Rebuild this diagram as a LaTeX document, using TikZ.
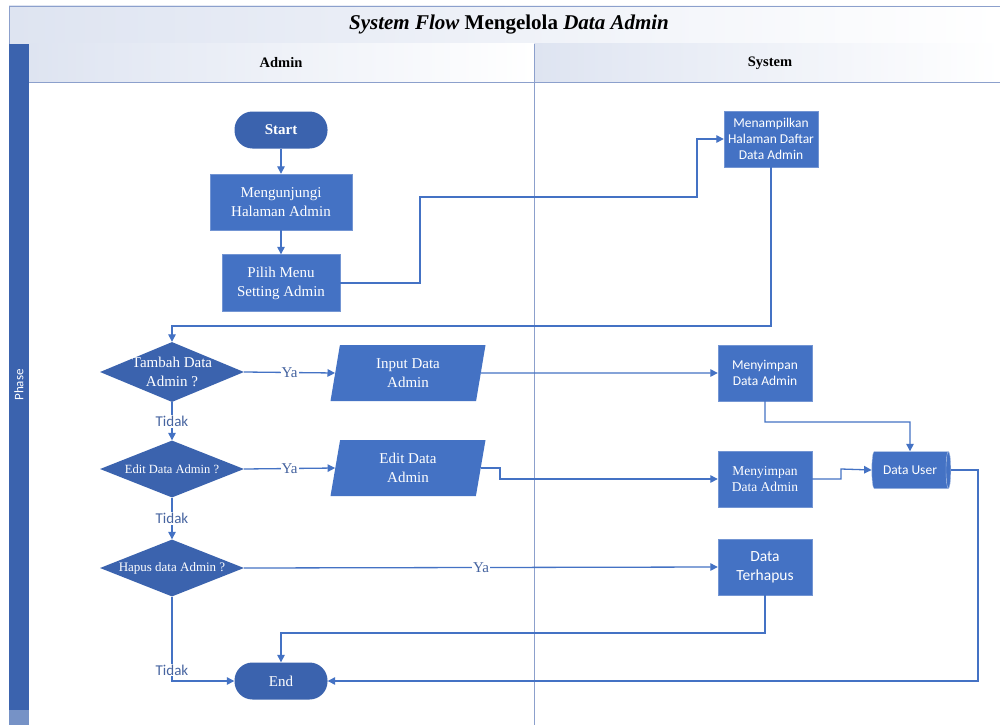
\documentclass[tikz,border=0pt]{standalone}
\usepackage{fontspec}
\setmainfont{Liberation Serif}
\newfontfamily\calfont{Carlito}
\usetikzlibrary{shapes.geometric,arrows.meta}
\definecolor{boxblue}{RGB}{68,114,196}
\definecolor{darkblue}{RGB}{59,99,174}
\definecolor{lanegray}{RGB}{140,160,204}
\definecolor{hdrblue}{RGB}{222,228,241}
\definecolor{labblue}{RGB}{70,100,160}
\begin{document}
\begin{tikzpicture}[x=1pt,y=-1pt]
\tikzstyle{every node}+=[inner sep=0pt, align=center]
\tikzstyle{proc}=[rectangle, fill=boxblue, draw=boxblue!75!white, text=white, minimum width=94pt, minimum height=56pt, font=\fontsize{13}{16}\selectfont]
\tikzstyle{term}=[rectangle, rounded corners=18pt, fill=darkblue, text=white, minimum width=93pt, minimum height=37pt, font=\fontsize{15}{18}\selectfont]
\tikzstyle{dec}=[diamond, fill=darkblue, minimum width=144pt, minimum height=60pt]
\tikzstyle{dectext}=[text=white, align=center]
\tikzstyle{io}=[trapezium, trapezium left angle=72, trapezium right angle=108, trapezium stretches body, fill=boxblue, text=white, minimum width=155pt, minimum height=56pt, font=\fontsize{15}{19}\selectfont]
\tikzstyle{store}=[cylinder, shape border rotate=0, aspect=0.55, cylinder uses custom fill, cylinder body fill=boxblue, cylinder end fill=boxblue, draw=boxblue!45!white, text=white, minimum width=37pt, minimum height=79pt, font=\calfont\fontsize{13.5}{16}\selectfont]
\tikzstyle{flow}=[draw=boxblue, line width=1.3pt, -{Triangle[length=7.5pt,width=7.5pt]}]
\tikzstyle{yes}=[fill=white, inner sep=1pt, text=labblue, font=\fontsize{15}{18}\selectfont]
\tikzstyle{no}=[fill=white, inner sep=1pt, text=labblue, font=\calfont\fontsize{15}{18}\selectfont]
\useasboundingbox (0,0) rectangle (1000,725);
\fill[white] (0,0) rectangle (1000,725);
\shade[left color=hdrblue, right color=white] (9,6) rectangle (1000,44);
\draw[lanegray, line width=0.8pt] (9,6) rectangle (1000,44);
\shade[left color=hdrblue, right color=white] (29,44) rectangle (534,82);
\shade[left color=hdrblue, right color=white] (534,44) rectangle (1000,82);
\draw[lanegray, line width=0.8pt] (29,82) -- (1000,82);
\draw[lanegray, line width=0.8pt] (534,44) -- (534,725);
\fill[darkblue] (9,44) rectangle (29,710);
\fill[darkblue!70!white] (9,710) rectangle (29,725);
\node[font=\bfseries\itshape\fontsize{21}{25}\selectfont] (title) at (509,25) {System Flow \textup{Mengelola} Data Admin};
\node[font=\bfseries\fontsize{14.5}{17}\selectfont] (admin) at (281,63) {Admin};
\node[font=\bfseries\fontsize{14.5}{17}\selectfont] (system) at (770,63) {System};
\node[rotate=90, text=white, font=\calfont\fontsize{13}{16}\selectfont] (phase) at (19,385) {Phase};
\node[term, font=\bfseries\fontsize{15}{18}\selectfont] (start) at (281,130) {Start};
\node[proc, minimum width=142pt, font=\fontsize{15}{19}\selectfont] (visit) at (281,202) {Mengunjungi\\Halaman Admin};
\node[proc, minimum width=118pt, minimum height=57pt, font=\fontsize{15}{19}\selectfont] (menu) at (281,283) {Pilih Menu\\Setting Admin};
\node[proc, font=\calfont\fontsize{13.5}{16}\selectfont] (list) at (771,139) {Menampilkan\\Halaman Daftar\\Data Admin};
\node[dec, label={[dectext, font=\fontsize{15}{19}\selectfont]center:{Tambah Data\\Admin ?}}] (add) at (172,372) {};
\node[io] (inp) at (408,373) {Input Data\\Admin};
\node[proc, font=\calfont\fontsize{13.5}{16}\selectfont] (save1) at (765,373) {Menyimpan\\Data Admin};
\node[dec, minimum height=57pt, label={[dectext, font=\fontsize{12.5}{15}\selectfont]center:{Edit Data Admin ?}}] (edit) at (172,469) {};
\node[io] (edt) at (408,468) {Edit Data\\Admin};
\node[proc, font=\fontsize{13.5}{16}\selectfont] (save2) at (765,479) {Menyimpan\\Data Admin};
\node[store] (user) at (910,470) {Data User};
\node[dec, minimum height=57pt, label={[dectext, font=\fontsize{13}{15}\selectfont]center:{Hapus data Admin ?}}] (del) at (172,568) {};
\node[proc, font=\calfont\fontsize{15.5}{19}\selectfont] (gone) at (765,567) {Data\\Terhapus};
\node[term] (end) at (281,681) {End};
\draw[flow] (start) -- (visit);
\draw[flow] (visit) -- (menu);
\draw[flow] (menu.east) -- (420,283) |- (697,197) |- (list.west);
\draw[flow] (list.south) |- (172,326) -- (add.north);
\draw[flow] (add.east) -- node[yes] {Ya} (inp.west);
\draw[flow] (inp.east) -- (save1.west);
\draw[flow] (save1.south) |- (910,422) -- (user.north);
\draw[flow] (add.south) -- node[no] {Tidak} (edit.north);
\draw[flow] (edit.east) -- node[yes] {Ya} (edt.west);
\draw[flow] (edt.east) -| (500,479) -- (save2.west);
\draw[flow] (save2.east) -| (841,469) -- (user.west);
\draw[flow] (edit.south) -- node[no] {Tidak} (del.north);
\draw[flow] (del.east) -- node[yes] {Ya} (gone.west);
\draw[flow] (gone.south) |- (281,633) -- (end.north);
\draw[flow] (del.south) -- node[no, pos=0.87] {Tidak} (172,681) -- (end.west);
\draw[flow] (user.east) -| (978,681) -- (end.east);
\end{tikzpicture}
\end{document}
